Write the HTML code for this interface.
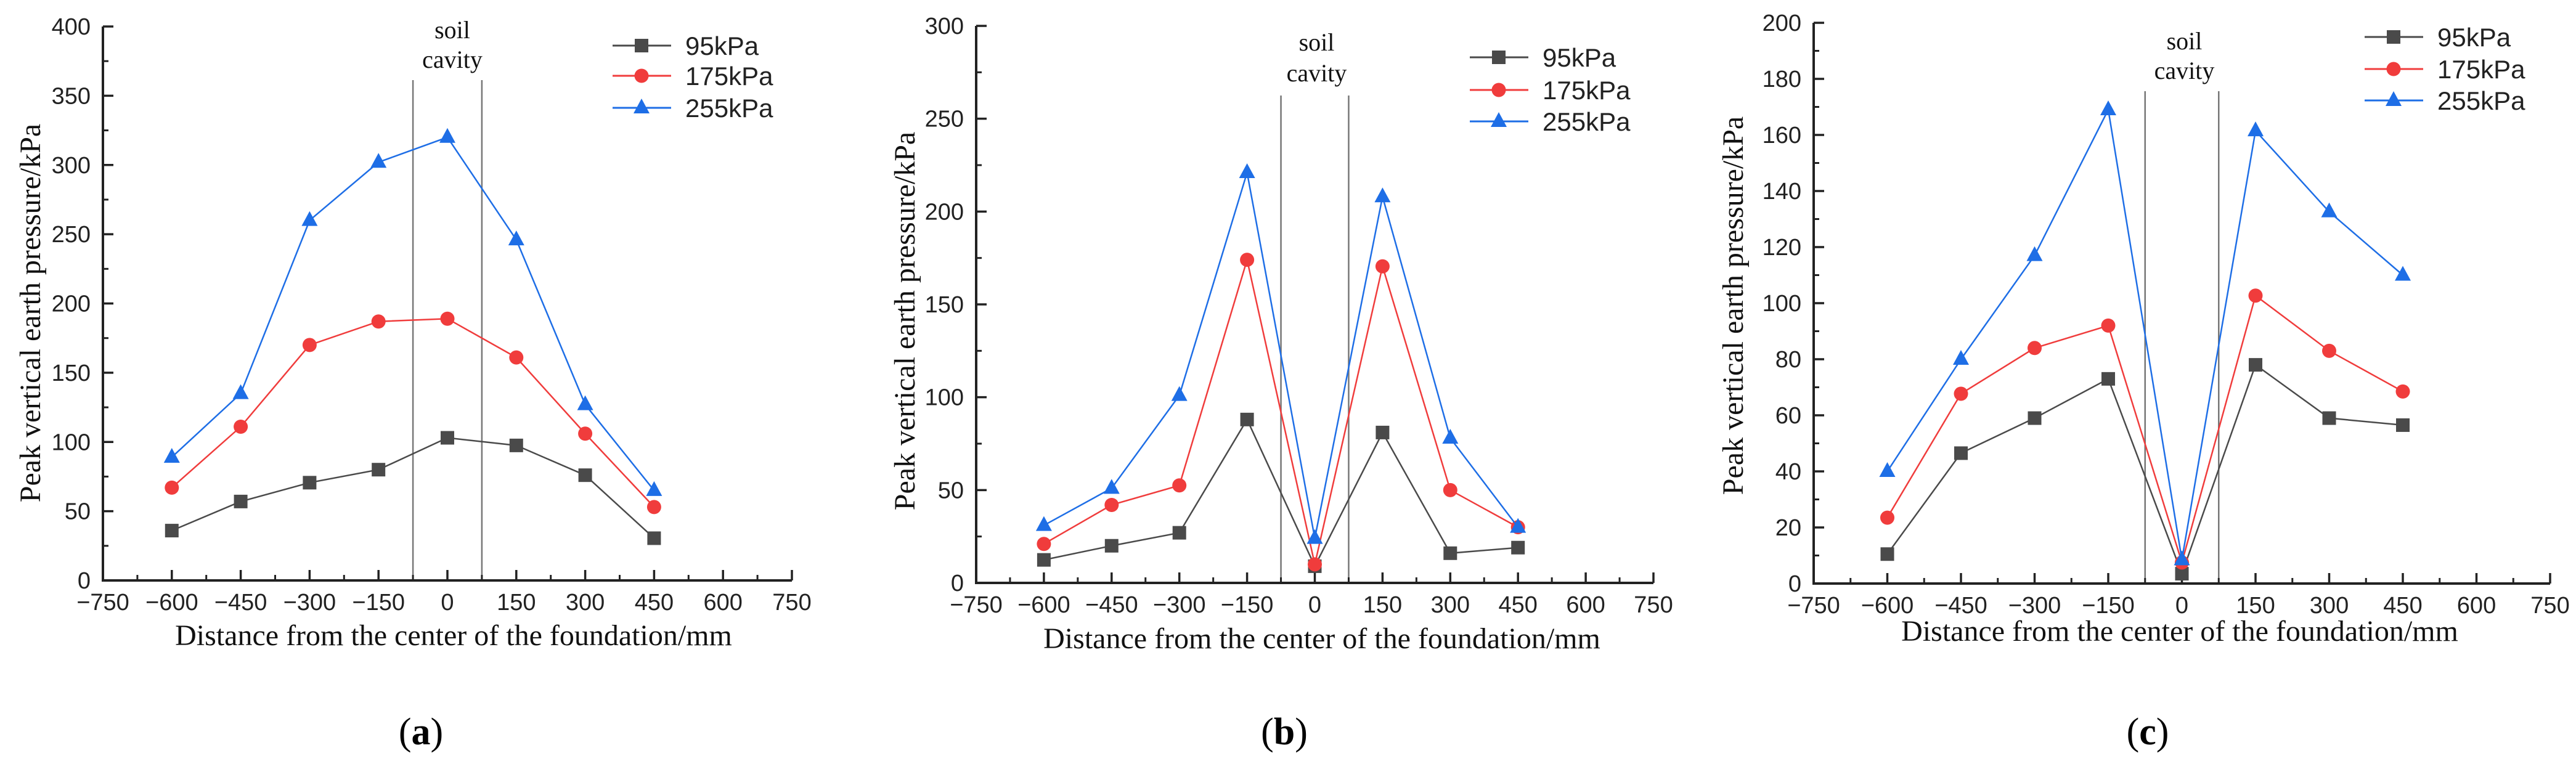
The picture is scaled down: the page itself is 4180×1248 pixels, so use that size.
<!DOCTYPE html>
<html><head><meta charset="utf-8"><style>
html,body{margin:0;padding:0;background:#fff}
svg{display:block}
.tk{font-family:"Liberation Sans Narrow","Liberation Sans",sans-serif;font-size:38px;fill:#222}
.lg{font-family:"Liberation Sans Narrow","Liberation Sans",sans-serif;font-size:42px;fill:#222}
.tt{font-family:"Liberation Serif",serif;font-size:48px;fill:#111}
.sc{font-family:"Liberation Serif",serif;font-size:40px;fill:#111}
.pl{font-family:"Liberation Serif",serif;font-size:62px;fill:#000}
</style></head><body>
<svg id="chart" width="4180" height="1248" viewBox="0 0 4180 1248" xmlns="http://www.w3.org/2000/svg"></svg>
<script>
const xCategories = [-600,-450,-300,-150,0,150,300,450];
const xTicks = [-750,-600,-450,-300,-150,0,150,300,450,600,750];
const seriesNames = ["95kPa","175kPa","255kPa"];
const a95 = [36,57,70.6,80,103,97.5,76,30.5];
const a175 = [67,111,170,187,189,161,106,53];
const a255 = [89,135,260,302,320,246,127,65];
const b95 = [12.4,20,27,88,9,81,16,19];
const b175 = [21,42,52.5,174,10,170.5,50,30];
const b255 = [31,51,101,221,24,208,78,30];
const c95 = [10.5,46.5,59,73,3.5,78,59,56.5];
const c175 = [23.5,67.7,84,92,7.5,102.7,83,68.5];
const c255 = [40,80,117,169,8.5,161.5,132.6,110];
const aYTicks = [0,50,100,150,200,250,300,350,400];
const bYTicks = [0,50,100,150,200,250,300];
const cYTicks = [0,20,40,60,80,100,120,140,160,180,200];
const cavityEdges = [-75,75];

const NS="http://www.w3.org/2000/svg";
const svg=document.getElementById('chart');
function mk(tag,attrs,parent,text){const e=document.createElementNS(NS,tag);for(const k in attrs)e.setAttribute(k,attrs[k]);if(text!==undefined)e.textContent=text;(parent||svg).appendChild(e);return e;}
const colors=["#4a4a4a","#f03c3c","#1e6ee6"];

function panel(cfg){
  const g=mk('g',{});
  
  
  const L=cfg.L,R=cfg.R,T=cfg.T,B=cfg.B,ymax=cfg.yTicks[cfg.yTicks.length-1];
  const sx=v=>L+(v+750)/1500*(R-L);
  const sy=v=>B-v/ymax*(B-T);
  // cavity lines
  cavityEdges.forEach(v=>{const l=mk('line',{x1:sx(v),x2:sx(v),y1:cfg.cavTop,y2:B,stroke:'#777','stroke-width':2.5},g);
    });
  let t=mk('text',{x:sx(0)+cfg.scDx,y:cfg.soilY,'text-anchor':'middle',class:'sc'},g,'soil');
  
  t=mk('text',{x:sx(0)+cfg.scDx,y:cfg.cavY,'text-anchor':'middle',class:'sc'},g,'cavity');
  
  // axes
  const ax=mk('path',{d:`M${L},${T}V${B}H${R}`,fill:'none',stroke:'#222','stroke-width':4},g);
  
  // y ticks
  const step=cfg.yTicks[1]-cfg.yTicks[0];
  cfg.yTicks.forEach((v,i)=>{
    mk('line',{x1:L,x2:L+17,y1:sy(v),y2:sy(v),stroke:'#222','stroke-width':3.5},g);
    if(i<cfg.yTicks.length-1)mk('line',{x1:L,x2:L+9,y1:sy(v+step/2),y2:sy(v+step/2),stroke:'#222','stroke-width':3},g);
    const tl=mk('text',{x:L-20,y:sy(v)+13,'text-anchor':'end',class:'tk'},g,String(v));
    
  });
  xTicks.forEach((v,i)=>{
    mk('line',{x1:sx(v),x2:sx(v),y1:B,y2:B-17,stroke:'#222','stroke-width':3.5},g);
    if(i<xTicks.length-1)mk('line',{x1:sx(v+75),x2:sx(v+75),y1:B,y2:B-9,stroke:'#222','stroke-width':3},g);
    const tl=mk('text',{x:sx(v),y:B+48,'text-anchor':'middle',class:'tk'},g,(v<0?'\u2212':'')+Math.abs(v));
    
  });
  t=mk('text',{x:cfg.xtX,y:cfg.xtY,'text-anchor':'middle',class:'tt'},g,'Distance from the center of the foundation/mm');
  
  t=mk('text',{x:0,y:0,'text-anchor':'middle',class:'tt',transform:`translate(${cfg.ytX},${cfg.ytY}) rotate(-90)`},g,'Peak vertical earth pressure/kPa');
  
  // series
  cfg.series.forEach((vals,si)=>{
    const pts=vals.map((v,i)=>[sx(xCategories[i]),sy(v)]);
    const pl=mk('polyline',{points:pts.map(p=>p.join(',')).join(' '),fill:'none',stroke:colors[si],'stroke-width':2.5},g);
    
    pts.forEach(p=>{const m=marker(si,p[0],p[1],g);
      });
  });
  // legend
  seriesNames.forEach((n,si)=>{
    const y=cfg.lgY[si];
    const ll=mk('line',{x1:cfg.lgX,x2:cfg.lgX+95,y1:y,y2:y,stroke:colors[si],'stroke-width':3},g);
    
    marker(si,cfg.lgX+47,y,g);
    const lt=mk('text',{x:cfg.lgX+118,y:y+15,class:'lg'},g,n);
    
  });
  t=mk('text',{x:cfg.plX,y:1208,'text-anchor':'middle',class:'pl'},g,'');
  
  mk('tspan',{},t,'(');mk('tspan',{'font-weight':'bold'},t,cfg.id);mk('tspan',{},t,')');
}
function marker(si,x,y,g){
  if(si===0)return mk('rect',{x:x-11,y:y-11,width:22,height:22,fill:'#4a4a4a'},g);
  if(si===1)return mk('circle',{cx:x,cy:y,r:11.5,fill:'#f03c3c'},g);
  return mk('path',{d:`M${x},${y-15}L${x+13},${y+9}L${x-13},${y+9}Z`,fill:'#1e6ee6'},g);
}
panel({id:'a',L:167,R:1285,T:43,B:942,yTicks:aYTicks,series:[a95,a175,a255],cavTop:130,soilY:62,cavY:110,scDx:8,
  xtX:736,xtY:1047,ytX:65,ytY:508,lgX:994,lgY:[74,123,175],plX:683});
panel({id:'b',L:1584,R:2683,T:42,B:946,yTicks:bYTicks,series:[b95,b175,b255],cavTop:155,soilY:82,cavY:132,scDx:3,
  xtX:2145,xtY:1052,ytX:1484,ytY:521,lgX:2385,lgY:[93,146,197],plX:2084});
panel({id:'c',L:2943,R:4138,T:37,B:947,yTicks:cYTicks,series:[c95,c175,c255],cavTop:148,soilY:80,cavY:128,scDx:4,
  xtX:3537,xtY:1040,ytX:2828,ytY:496,lgX:3837,lgY:[60,112,163],plX:3485});
</script>
</body></html>
